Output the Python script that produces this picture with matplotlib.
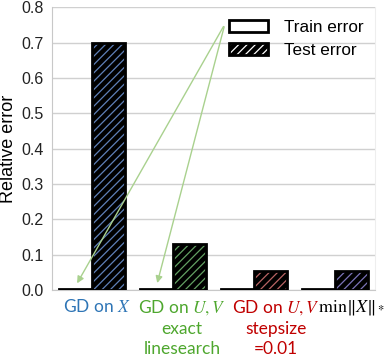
import numpy as np
import matplotlib.pyplot as plt
import matplotlib.transforms as mtransforms
from matplotlib.patches import Patch

plt.rcParams['mathtext.fontset'] = 'stix'
plt.rcParams['hatch.linewidth'] = 0.9

methods = ['GD on $X$', 'GD on $U,V$\nexact\nlinesearch',
           'GD on $U,V$\nstepsize\n=0.01', r'$\min\|X\|_*$']
label_colors = ['#2e75b6', '#4ea72e', '#c00000', 'black']
label_sizes = [12.5, 12.5, 12.5, 13]
train_err = [0.002, 0.002, 0.002, 0.002]
test_err = [0.70, 0.13, 0.055, 0.053]
hatch_colors = ['#5f80b8', '#63a063', '#b86464', '#7c74b8']

fig = plt.figure(figsize=(3.9, 3.58), dpi=100)
ax = fig.add_axes([0.133, 0.19, 0.829, 0.79])

x = np.arange(len(methods))
w = 0.41
ax.bar(x - w / 2, train_err, w, color='white', edgecolor='black', linewidth=2, zorder=3)
for i in range(len(x)):
    ax.bar(x[i] + w / 2, test_err[i], w, color='black', edgecolor=hatch_colors[i],
           hatch='////', linewidth=0, zorder=3)
ax.bar(x + w / 2, test_err, w, fill=False, edgecolor='black', linewidth=2, zorder=4)

ax.set_xlim(-0.5, len(methods) - 0.5)
ax.set_ylim(0, 0.8)
ax.set_yticks(np.arange(0, 0.81, 0.1))
ax.set_yticklabels(['%.1f' % v for v in np.arange(0, 0.81, 0.1)],
                   fontsize=11.5, family='Liberation Sans', color='#222222')
ax.grid(axis='y', color='#d0d0d0', linewidth=1, zorder=0)
ax.tick_params(length=0, pad=6)

# category labels, drawn as text: in the original they sit a bit right of the group centres
ax.set_xticks(x)
ax.set_xticklabels([])
shifts = [5, 9, 22, 17]
for i in range(len(x)):
    tr = ax.get_xaxis_transform() + mtransforms.ScaledTranslation(
        shifts[i] / 100, -8 / 100, fig.dpi_scale_trans)
    ax.text(x[i], 0, methods[i], transform=tr, ha='center', va='top',
            multialignment='center', fontsize=label_sizes[i], family='Lato',
            linespacing=1.3, color=label_colors[i])

ax.spines['top'].set_visible(False)
for s in ['left', 'bottom']:
    ax.spines[s].set_color('#c8c8c8')
ax.spines['right'].set_color('#eeeeee')

ax.set_ylabel('Relative error', fontsize=13, family='Liberation Sans')
ax.yaxis.set_label_coords(-0.108, 0.5)

h_train = Patch(facecolor='white', edgecolor='black', linewidth=2)
h_test = (Patch(facecolor='black', edgecolor='white', hatch='////', linewidth=0),
          Patch(fill=False, edgecolor='black', linewidth=2))
ax.legend([h_train, h_test], ['Train error', 'Test error'], loc='upper left',
          bbox_to_anchor=(0.5, 1.01), frameon=False, handlelength=2.3,
          handleheight=0.7, prop={'family': 'Liberation Sans', 'size': 12.3},
          labelspacing=0.5, handletextpad=0.9)

# green arrows from legend to the tiny train-error bars
for i in [0, 1]:
    ax.annotate('', xy=(x[i] - w / 2, train_err[i] + 0.01), xycoords='data',
                xytext=(0.535, 0.94), textcoords='axes fraction',
                arrowprops=dict(arrowstyle='-|>', color='#a9d18e', lw=1,
                                mutation_scale=10), zorder=5)

fig.savefig('out.png', dpi=100)
